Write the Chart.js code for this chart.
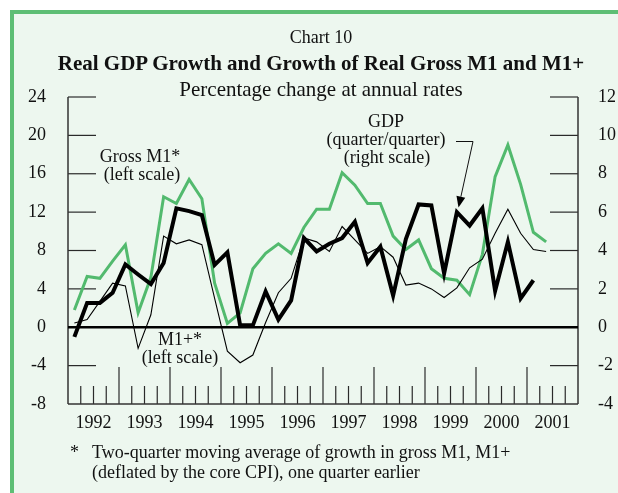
<!DOCTYPE html>
<html><head><meta charset="utf-8">
<script src="https://cdn.jsdelivr.net/npm/chart.js@4"></script>
<style>
html,body{margin:0;padding:0;background:#fff;}
#wrap{position:absolute;left:0;top:0;width:618px;height:493px;overflow:hidden;}
#frame{position:absolute;left:10px;top:10px;width:640px;height:520px;background:#EDF7EF;border-left:4px solid #5DBE74;border-top:4px solid #5DBE74;}
canvas{position:absolute;left:0;top:0;}
.t{position:absolute;font-family:"Liberation Serif","Times New Roman",serif;color:#111;white-space:nowrap;}
</style></head><body>
<div id="wrap">
<div id="frame"></div>
<canvas id="c" width="618" height="493"></canvas>
<div class="t" style="left:0;width:642px;text-align:center;top:27px;font-size:18px;line-height:20px;">Chart 10</div>
<div class="t" style="left:0;width:642px;text-align:center;top:51px;font-size:21px;line-height:24px;font-weight:bold;">Real GDP Growth and Growth of Real Gross M1 and M1+</div>
<div class="t" style="left:0;width:642px;text-align:center;top:77px;font-size:21px;line-height:24px;">Percentage change at annual rates</div>
<div class="t" style="left:70px;top:442px;font-size:18px;line-height:20px;">*</div>
<div class="t" style="left:92px;top:442px;font-size:18px;line-height:20px;">Two-quarter moving average of growth in gross M1, M1+</div>
<div class="t" style="left:92px;top:462px;font-size:18px;line-height:20px;">(deflated by the core CPI), one quarter earlier</div>
</div>
<script>
// ---- data ----
const years = ['1992','1993','1994','1995','1996','1997','1998','1999','2000','2001'];
const quarterNames = ['Q1','Q2','Q3','Q4'];
const quarters = years.flatMap(y => quarterNames.map(q => y + q));
// Gross M1* growth, left scale (%)
const grossM1 = [1.8, 5.3, 5.1, 6.9, 8.6, 1.5, 5.2, 13.6, 12.9, 15.4, 13.4, 4.6, 0.4, 1.5, 6.1, 7.7, 8.7, 7.7, 10.4, 12.3, 12.3, 16.1, 14.8, 12.9, 12.9, 9.5, 8.1, 9.1, 6.1, 5.1, 4.9, 3.4, 7.6, 15.7, 19.0, 14.9, 9.9, 8.9];
// M1+* growth, left scale (%)
const m1plus = [0.45, 0.8, 2.7, 4.6, 4.3, -2.2, 1.3, 9.5, 8.7, 9.1, 8.6, 3.0, -2.5, -3.7, -2.9, 0.5, 3.6, 5.1, 9.3, 8.9, 7.9, 10.5, 9.1, 7.7, 8.4, 7.3, 4.4, 4.6, 4.0, 3.1, 4.1, 6.2, 7.1, 9.8, 12.3, 9.8, 8.1, 7.9];
// Real GDP growth q/q annualized, right scale (%)
const gdp = [-0.5, 1.27, 1.27, 1.8, 3.27, 2.75, 2.25, 3.35, 6.2, 6.05, 5.85, 3.25, 3.9, 0.1, 0.1, 1.87, 0.4, 1.4, 4.65, 3.95, 4.35, 4.65, 5.5, 3.35, 4.2, 1.65, 4.6, 6.4, 6.35, 2.8, 6.0, 5.3, 6.2, 1.9, 4.45, 1.5, 2.45];

const FONT = '"Liberation Serif","Times New Roman",serif';
const GREEN = '#52BA6E';

const decor = {
  id: 'decor',
  beforeDatasetsDraw(chart) {
    const {ctx, chartArea: a, scales} = chart;
    const yL = scales.y, yR = scales.y2, xq = scales.x;
    const seg = (x1, y1, x2, y2) => { ctx.beginPath(); ctx.moveTo(x1, y1); ctx.lineTo(x2, y2); ctx.stroke(); };
    ctx.save();
    ctx.strokeStyle = '#2a2a2a';
    ctx.lineWidth = 1.2;
    yL.ticks.forEach(t => {
      if (t.value === 0 || t.value === yL.min) return;
      const py = yL.getPixelForValue(t.value);
      seg(a.left, py, a.left + 28, py);
    });
    yR.ticks.forEach(t => {
      if (t.value === 0 || t.value === yR.min) return;
      const py = yR.getPixelForValue(t.value);
      seg(a.right - 28, py, a.right, py);
    });
    for (let k = 1; k < quarters.length; k++) {
      const px = (xq.getPixelForValue(k - 1) + xq.getPixelForValue(k)) / 2;
      const major = k % 4 === 0;
      seg(px, a.bottom, px, a.bottom - (major ? 37 : 18));
    }
    ctx.strokeStyle = '#333';
    ctx.lineWidth = 1.5;
    seg(a.left, a.top, a.left, a.bottom);
    seg(a.right, a.top, a.right, a.bottom);
    seg(a.left, a.bottom, a.right, a.bottom);
    ctx.strokeStyle = '#000';
    ctx.lineWidth = 2.5;
    const y0 = yL.getPixelForValue(0);
    seg(a.left, y0, a.right, y0);
    ctx.restore();
  },
  afterDraw(chart) {
    const {ctx} = chart;
    ctx.save();
    ctx.fillStyle = '#111';
    ctx.font = '18px ' + FONT;
    ctx.textAlign = 'center';
    ctx.textBaseline = 'middle';
    const labels = [
      ['Gross M1*', 140, 157], ['(left scale)', 142, 175],
      ['M1+*', 180, 340], ['(left scale)', 180, 358],
      ['GDP', 386, 122], ['(quarter/quarter)', 386, 140], ['(right scale)', 387, 158]
    ];
    labels.forEach(([s, x, y]) => ctx.fillText(s, x, y));
    // arrow
    ctx.strokeStyle = '#111';
    ctx.lineWidth = 1;
    const tip = [458.5, 207.5], corner = [473, 141.5];
    const dx = tip[0] - corner[0], dy = tip[1] - corner[1];
    const len = Math.hypot(dx, dy), ux = dx / len, uy = dy / len;
    const hl = 11, hw = 4.5;
    const bx = tip[0] - ux * hl, by = tip[1] - uy * hl;
    ctx.beginPath();
    ctx.moveTo(456, 141.5); ctx.lineTo(corner[0], corner[1]); ctx.lineTo(bx, by);
    ctx.stroke();
    ctx.beginPath();
    ctx.moveTo(tip[0], tip[1]);
    ctx.lineTo(bx - uy * hw, by + ux * hw);
    ctx.lineTo(bx + uy * hw, by - ux * hw);
    ctx.closePath();
    ctx.fillStyle = '#000';
    ctx.fill();
    ctx.restore();
  }
};

new Chart(document.getElementById('c'), {
  type: 'line',
  data: {
    labels: quarters,
    datasets: [
      {label: 'GDP', data: gdp, yAxisID: 'y2', borderColor: '#000', borderWidth: 4, order: 0},
      {label: 'M1+', data: m1plus, yAxisID: 'y', borderColor: '#000', borderWidth: 1.1, order: 1},
      {label: 'Gross M1', data: grossM1, yAxisID: 'y', borderColor: GREEN, borderWidth: 3, order: 2}
    ]
  },
  options: {
    responsive: false,
    animation: false,
    devicePixelRatio: 1,
    layout: {padding: {top: 97, bottom: 39, left: 0, right: 0}},
    elements: {
      point: {radius: 0, hoverRadius: 0},
      line: {tension: 0, borderJoinStyle: 'miter', fill: false}
    },
    plugins: {legend: {display: false}, tooltip: {enabled: false}, title: {display: false}},
    scales: {
      x: {type: 'category', offset: true, display: false},
      years: {
        type: 'category', labels: years, offset: true, position: 'bottom',
        grid: {display: false}, border: {display: false},
        ticks: {color: '#111', font: {family: FONT, size: 18}, padding: 0, maxRotation: 0, autoSkip: false},
        afterFit(s) { s.height = 50; }
      },
      y: {
        position: 'left', min: -8, max: 24,
        grid: {display: false}, border: {display: false},
        ticks: {stepSize: 4, color: '#111', font: {family: FONT, size: 18}, padding: 14},
        afterFit(s) { s.width = 68; }
      },
      y2: {
        position: 'right', min: -4, max: 12,
        grid: {display: false}, border: {display: false},
        ticks: {stepSize: 2, color: '#111', font: {family: FONT, size: 18}, padding: 12},
        afterFit(s) { s.width = 40; }
      }
    }
  },
  plugins: [decor]
});
</script>
</body></html>
